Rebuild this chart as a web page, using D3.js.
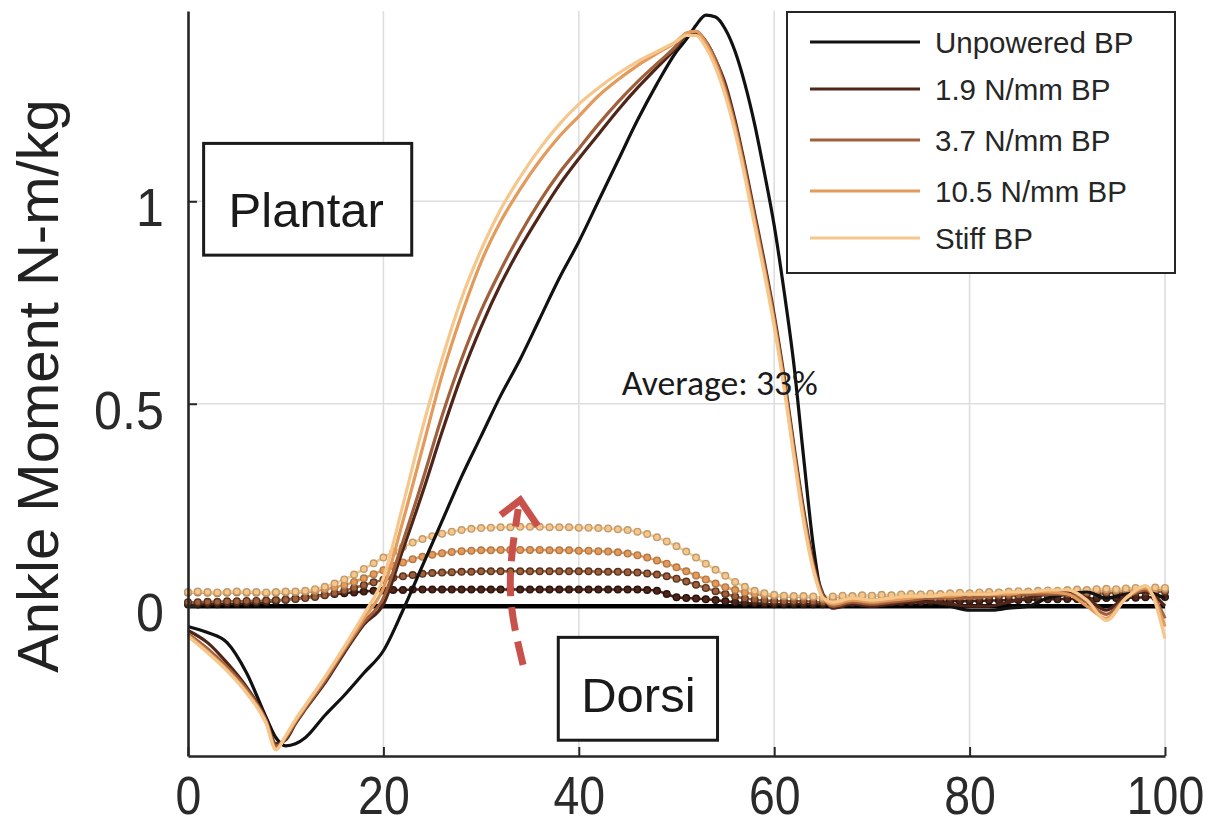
<!DOCTYPE html>
<html><head><meta charset="utf-8">
<script src="https://cdn.jsdelivr.net/npm/d3@7"></script>
<style>html,body{margin:0;padding:0;background:#fff;} svg{display:block;}</style>
</head><body>
<svg id="chart" width="1209" height="834"></svg>
<script>
// ---------- DATA ----------
const pct = [0,2,4,6,8,9,10,11,12,14,16,18,20,22,24,26,28,30,32,34,36,38,40,42,44,46,48,50,
  51,52,53,54,55,56,57,58,59,60,61,62,63,64,65,66,68,70,72,74,76,78,80,82,84,86,88,90,92,94,96,98,100];

const seriesNames = ["Unpowered BP","1.9 N/mm BP","3.7 N/mm BP","10.5 N/mm BP","Stiff BP"];
const seriesColors = ["#111111","#4e2518","#a0603c","#e39a5b","#f6c78c"];

// total ankle moment (N-m/kg)
const momentUnpowered = [-0.05,-0.065,-0.09,-0.165,-0.275,-0.325,-0.345,-0.34,-0.325,-0.27,-0.22,-0.165,-0.11,-0.01,0.10,0.21,0.32,0.42,0.52,0.61,0.71,0.81,0.90,1.00,1.10,1.20,1.29,1.37,
  1.40,1.435,1.46,1.455,1.425,1.37,1.29,1.19,1.07,0.94,0.78,0.60,0.37,0.15,0.02,0.005,
  0.01,0.0,0.01,0.015,0.01,0.0,-0.01,-0.01,-0.005,0.0,0.02,0.03,0.035,0.02,0.03,0.035,0.02];
const moment19 = [-0.06,-0.09,-0.14,-0.20,-0.28,-0.34,-0.33,-0.29,-0.255,-0.19,-0.115,-0.045,0.005,0.14,0.28,0.43,0.57,0.69,0.795,0.885,0.965,1.04,1.105,1.165,1.225,1.28,1.33,1.38,
  1.41,1.415,1.395,1.35,1.29,1.20,1.09,0.97,0.85,0.72,0.57,0.40,0.24,0.11,0.03,-0.005,
  0.005,0.0,0.005,0.01,0.01,0.005,0.0,0.0,0.01,0.02,0.03,0.035,0.02,-0.01,0.025,0.035,0.0];
const moment37 = [-0.068,-0.105,-0.15,-0.205,-0.283,-0.345,-0.326,-0.287,-0.252,-0.185,-0.11,-0.04,0.02,0.16,0.31,0.47,0.61,0.73,0.83,0.92,1.0,1.07,1.13,1.19,1.245,1.295,1.34,1.385,
  1.415,1.42,1.395,1.35,1.28,1.19,1.08,0.96,0.84,0.71,0.56,0.39,0.23,0.10,0.025,0.0,
  0.01,0.005,0.01,0.015,0.02,0.02,0.02,0.025,0.03,0.03,0.03,0.03,0.01,-0.02,0.02,0.04,-0.03];
const moment105 = [-0.072,-0.112,-0.157,-0.212,-0.287,-0.352,-0.322,-0.283,-0.248,-0.178,-0.105,-0.03,0.045,0.21,0.39,0.57,0.72,0.85,0.95,1.03,1.10,1.16,1.21,1.26,1.30,1.335,1.365,1.395,
  1.415,1.42,1.39,1.34,1.27,1.18,1.07,0.95,0.83,0.70,0.55,0.38,0.22,0.095,0.02,0.005,
  0.015,0.01,0.015,0.02,0.025,0.025,0.03,0.03,0.03,0.035,0.035,0.03,0.0,-0.03,0.02,0.045,-0.05];
const momentStiff = [-0.075,-0.115,-0.16,-0.215,-0.29,-0.355,-0.32,-0.28,-0.245,-0.175,-0.10,-0.02,0.07,0.25,0.44,0.61,0.76,0.88,0.98,1.06,1.13,1.19,1.24,1.28,1.315,1.345,1.37,1.395,
  1.41,1.41,1.38,1.33,1.26,1.17,1.06,0.94,0.82,0.69,0.54,0.37,0.21,0.09,0.02,0.01,
  0.02,0.015,0.02,0.025,0.025,0.03,0.03,0.03,0.035,0.035,0.04,0.04,0.015,-0.035,0.02,0.05,-0.08];

// exoskeleton (device) moment, sampled every 1 % of gait
const exoPct = d3.range(0, 101, 1);
const exo19 = [
  0.004,0.004,0.005,0.005,0.006,0.006,0.007,0.008,0.010,0.013,
  0.016,0.019,0.022,0.025,0.028,0.030,0.032,0.034,0.036,0.038,
  0.039,0.040,0.040,0.041,0.041,0.041,0.041,0.041,0.041,0.041,
  0.041,0.041,0.041,0.041,0.041,0.041,0.041,0.041,0.041,0.041,
  0.041,0.041,0.041,0.041,0.041,0.041,0.041,0.040,0.038,0.030,
  0.022,0.020,0.019,0.017,0.015,0.012,0.010,0.008,0.007,0.006,
  0.005,0.005,0.005,0.005,0.005,0.005,0.006,0.006,0.007,0.007,
  0.008,0.008,0.009,0.009,0.010,0.010,0.011,0.011,0.012,0.012,
  0.013,0.013,0.014,0.014,0.015,0.015,0.016,0.016,0.017,0.017,
  0.018,0.018,0.019,0.019,0.020,0.020,0.021,0.021,0.022,0.022,
  0.023];
const exo37 = [
  0.010,0.010,0.011,0.011,0.012,0.012,0.013,0.013,0.014,0.015,
  0.016,0.018,0.020,0.023,0.027,0.032,0.038,0.045,0.052,0.059,
  0.065,0.070,0.074,0.077,0.080,0.082,0.083,0.084,0.085,0.085,
  0.086,0.086,0.086,0.086,0.086,0.086,0.086,0.086,0.086,0.086,
  0.086,0.086,0.085,0.085,0.085,0.084,0.083,0.081,0.078,0.074,
  0.068,0.061,0.053,0.045,0.037,0.030,0.024,0.019,0.016,0.014,
  0.013,0.012,0.012,0.012,0.011,0.010,0.012,0.013,0.014,0.015,
  0.016,0.016,0.017,0.018,0.019,0.019,0.020,0.021,0.021,0.022,
  0.023,0.023,0.024,0.025,0.025,0.026,0.027,0.027,0.028,0.029,
  0.029,0.030,0.031,0.031,0.032,0.033,0.033,0.034,0.035,0.035,
  0.036];
const exo105 = [
  0.033,0.034,0.033,0.032,0.033,0.034,0.033,0.033,0.032,0.033,
  0.034,0.034,0.035,0.037,0.041,0.046,0.052,0.060,0.069,0.079,
  0.089,0.099,0.108,0.116,0.122,0.127,0.131,0.134,0.136,0.137,
  0.138,0.138,0.139,0.139,0.139,0.139,0.139,0.138,0.138,0.138,
  0.137,0.137,0.136,0.135,0.133,0.130,0.126,0.120,0.113,0.105,
  0.096,0.086,0.076,0.066,0.056,0.047,0.040,0.034,0.030,0.027,
  0.025,0.024,0.023,0.023,0.022,0.018,0.022,0.023,0.024,0.025,
  0.025,0.026,0.026,0.027,0.028,0.028,0.029,0.029,0.030,0.031,
  0.031,0.032,0.032,0.033,0.034,0.034,0.035,0.035,0.036,0.036,
  0.037,0.037,0.038,0.038,0.039,0.039,0.040,0.040,0.041,0.041,
  0.042];
const exoStiff = [
  0.035,0.036,0.035,0.034,0.035,0.036,0.035,0.035,0.034,0.035,
  0.036,0.036,0.038,0.042,0.048,0.056,0.066,0.078,0.092,0.106,
  0.120,0.134,0.146,0.157,0.166,0.173,0.179,0.184,0.188,0.191,
  0.193,0.194,0.195,0.195,0.196,0.196,0.196,0.195,0.195,0.195,
  0.194,0.194,0.193,0.192,0.190,0.188,0.184,0.178,0.170,0.160,
  0.148,0.135,0.120,0.105,0.090,0.075,0.060,0.048,0.038,0.032,
  0.028,0.026,0.025,0.025,0.024,0.020,0.024,0.026,0.025,0.027,
  0.026,0.028,0.027,0.029,0.030,0.029,0.031,0.030,0.032,0.033,
  0.032,0.034,0.035,0.034,0.036,0.037,0.036,0.038,0.039,0.038,
  0.040,0.041,0.040,0.042,0.043,0.042,0.044,0.045,0.044,0.046,
  0.045];

const xTicks = [0, 20, 40, 60, 80, 100];
const yTicks = [0, 0.5, 1];
const xDomain = [0, 100];
const yDomain = [-0.37, 1.47];

const mainSeries = [momentUnpowered, moment19, moment37, moment105, momentStiff];
const exoSeries = [null, exo19, exo37, exo105, exoStiff];

// annotations (data coordinates)
const plantarBox = {x0: 1.6, x1: 22.9, y0: 0.867, y1: 1.143, tx: 12.1, ty: 0.936, label: "Plantar"};
const dorsiBox = {x0: 37.9, x1: 54.2, y0: -0.331, y1: -0.077, tx: 46.1, ty: -0.262, label: "Dorsi"};
const avgNote = {x: 44.4, y: 0.522, label: "Average: 33%"};
const arrowShaft = [[34.3, -0.145], [33.0, 0.04], [33.8, 0.24]];
const arrowHead = [[32.0, 0.225], [34.0, 0.262], [35.8, 0.198]];

// ---------- CHART ----------
const svg = d3.select("#chart");
svg.append("rect").attr("width", 1209).attr("height", 834).attr("fill", "#fff");

const x = d3.scaleLinear().domain(xDomain).range([188, 1165]);
const y = d3.scaleLinear().domain(yDomain).range([756, 11]);
const axisColor = "#262626";

// grid
const grid = svg.append("g");
grid.selectAll(".vg").data(xTicks.filter(d => d > 0)).join("line")
  .attr("x1", d => x(d)).attr("x2", d => x(d)).attr("y1", y(yDomain[0])).attr("y2", y(yDomain[1]))
  .attr("stroke", "#dedede").attr("stroke-width", 1.6);
grid.selectAll(".hg").data(yTicks.filter(d => d !== 0)).join("line")
  .attr("x1", x(0)).attr("x2", x(100)).attr("y1", d => y(d)).attr("y2", d => y(d))
  .attr("stroke", "#dedede").attr("stroke-width", 1.6);

// unpowered device moment = 0 (thick line)
svg.append("line").attr("x1", x(0)).attr("x2", x(100)).attr("y1", y(0)).attr("y2", y(0))
  .attr("stroke", "#000").attr("stroke-width", 4.5);

// exo curves with markers
const exoLine = d3.line().x((d, i) => x(exoPct[i])).y(d => y(d)).curve(d3.curveMonotoneX);
exoSeries.forEach((s, k) => {
  if (!s) return;
  const c = seriesColors[k];
  const g = svg.append("g");
  g.append("path").attr("d", exoLine(s)).attr("fill", "none").attr("stroke", c).attr("stroke-width", 2.5);
  g.selectAll("circle").data(s).join("circle")
    .attr("cx", (d, i) => x(exoPct[i])).attr("cy", d => y(d)).attr("r", 3.3)
    .attr("fill", c).attr("stroke", d3.color(c).darker(k <= 2 ? 1.8 : 0.7)).attr("stroke-width", 1.4);
});

// main curves
const line = d3.line().x((d, i) => x(pct[i])).y(d => y(d)).curve(d3.curveMonotoneX);
mainSeries.forEach((s, k) => {
  svg.append("path").attr("d", line(s)).attr("fill", "none")
    .attr("stroke", seriesColors[k]).attr("stroke-width", 3.2).attr("stroke-linejoin", "round");
});

// axes
const xAxis = d3.axisBottom(x).tickValues(xTicks).tickSizeInner(-9).tickSizeOuter(0).tickPadding(20)
  .tickFormat(d3.format("d"));
const gx = svg.append("g").attr("transform", `translate(0,${y(yDomain[0])})`).call(xAxis);
const yAxis = d3.axisLeft(y).tickValues(yTicks).tickSizeInner(-9).tickSizeOuter(0).tickPadding(26)
  .tickFormat(d => d === 0 ? "0" : (d === 1 ? "1" : d3.format(".1f")(d)));
const gy = svg.append("g").attr("transform", `translate(${x(0)},0)`).call(yAxis);
[gx, gy].forEach(g => {
  g.select(".domain").attr("stroke", axisColor).attr("stroke-width", 2.6);
  g.selectAll(".tick line").attr("stroke", axisColor).attr("stroke-width", 2);
  g.selectAll(".tick text").attr("fill", "#2a2a2a").attr("font-family", "Liberation Sans, Arial, sans-serif")
    .attr("font-size", 54);
});
gx.selectAll(".tick text").attr("transform", "scale(0.86,1)");
gy.selectAll(".tick text").attr("dy", "0.45em").attr("transform", "scale(0.93,1)");

// y label
svg.append("text")
  .attr("transform", `translate(58,386) rotate(-90)`)
  .attr("text-anchor", "middle").attr("font-family", "Liberation Sans, Arial, sans-serif")
  .attr("font-size", 58).attr("fill", "#222").text("Ankle Moment N-m/kg");

// annotation boxes
[plantarBox, dorsiBox].forEach(b => {
  svg.append("rect").attr("x", x(b.x0)).attr("y", y(b.y1))
    .attr("width", x(b.x1) - x(b.x0)).attr("height", y(b.y0) - y(b.y1))
    .attr("fill", "#fff").attr("stroke", "#1a1a1a").attr("stroke-width", 3);
  svg.append("text").attr("x", x(b.tx)).attr("y", y(b.ty)).attr("text-anchor", "middle")
    .attr("font-family", "Liberation Sans, Arial, sans-serif").attr("font-size", 49)
    .attr("fill", "#1a1a1a").text(b.label);
});

// average note
const avg = svg.append("text").attr("x", x(avgNote.x)).attr("y", y(avgNote.y))
  .attr("font-family", "Carlito, Lato, 'Open Sans', sans-serif").attr("font-size", 30)
  .attr("fill", "#1a1a1a").text(avgNote.label);
const aw = avg.node().getComputedTextLength();
if (aw > 0) avg.attr("font-size", 30 * 196 / aw);

// red dashed arrow
const arrowColor = "#c8514c";
svg.append("path")
  .attr("d", d3.line().x(d => x(d[0])).y(d => y(d[1])).curve(d3.curveNatural)(arrowShaft))
  .attr("fill", "none").attr("stroke", arrowColor).attr("stroke-width", 7)
  .attr("stroke-dasharray", "24,11");
svg.append("path")
  .attr("d", d3.line().x(d => x(d[0])).y(d => y(d[1])).curve(d3.curveLinear)(arrowHead))
  .attr("fill", "none").attr("stroke", arrowColor).attr("stroke-width", 7)
  .attr("stroke-linejoin", "miter");

// legend
const lg = svg.append("g");
lg.append("rect").attr("x", 787).attr("y", 12).attr("width", 388).attr("height", 261)
  .attr("fill", "#fff").attr("stroke", axisColor).attr("stroke-width", 2);
const rowsY = [42, 89, 140, 191, 238];
seriesNames.forEach((n, i) => {
  lg.append("line").attr("x1", 810).attr("x2", 920).attr("y1", rowsY[i]).attr("y2", rowsY[i])
    .attr("stroke", seriesColors[i]).attr("stroke-width", 3);
  lg.append("text").attr("x", 935).attr("y", rowsY[i]).attr("dy", "0.36em")
    .attr("font-family", "Liberation Sans, Arial, sans-serif").attr("font-size", 29.5)
    .attr("fill", "#262626").text(n);
});
</script>
</body></html>
